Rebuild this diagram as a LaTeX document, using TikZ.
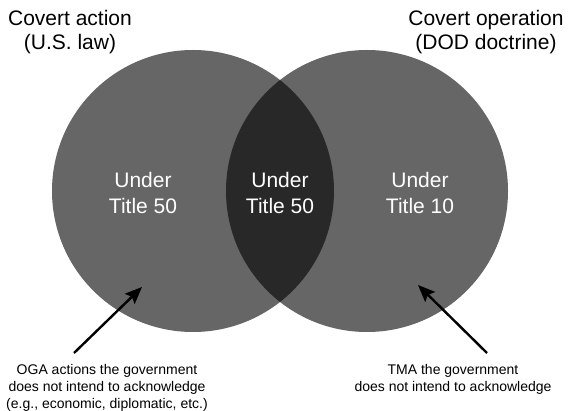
\documentclass[tikz,border=0pt]{standalone}
\usepackage{fontspec}
\setmainfont{Liberation Sans}
\usetikzlibrary{arrows.meta}
\begin{document}
\begin{tikzpicture}[x=1pt,y=-1pt,
  setcircle/.style={fill=black, fill opacity=0.6, draw=none},
  toplabel/.style={font=\fontsize{21}{24}\selectfont, align=center, inner sep=0pt, anchor=base, text=black},
  inlabel/.style={font=\fontsize{21}{26.5}\selectfont, align=center, inner sep=0pt, anchor=base, text=white},
  notelabel/.style={font=\fontsize{14}{17}\selectfont, align=center, inner sep=0pt, anchor=base, text=black},
  pointer/.style={-{Stealth[length=17pt,width=14pt,inset=3pt]}, line width=2.4pt, black}]
\useasboundingbox (0,0) rectangle (570,411);
\fill[white] (0,0) rectangle (570,411);
\path[setcircle] (193,191) circle[radius=141];
\path[setcircle] (367,191) circle[radius=141];
\node[toplabel] (ca) at (70,50) {Covert action\\(U.S. law)};
\node[toplabel] (co) at (486,50) {Covert operation\\(DOD doctrine)};
\node[inlabel] (l50) at (143,214) {Under\\Title 50};
\node[inlabel] (m50) at (280,214) {Under\\Title 50};
\node[inlabel] (r10) at (420,214) {Under\\Title 10};
\node[notelabel] (oga) at (107,408) {OGA actions the government\\does not intend to acknowledge\\(e.g., economic, diplomatic, etc.)};
\node[notelabel] (tma) at (453,391) {TMA the government\\does not intend to acknowledge};
\coordinate (ogatail) at (74,353);
\coordinate (ogatip) at (142,287);
\coordinate (tmatail) at (487,353);
\coordinate (tmatip) at (418,285);
\draw[pointer] (ogatail) -- (ogatip);
\draw[pointer] (tmatail) -- (tmatip);
\end{tikzpicture}
\end{document}
